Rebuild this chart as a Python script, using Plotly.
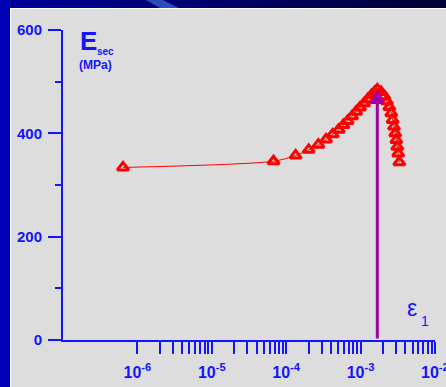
import math
import plotly.graph_objects as go

# ---- data ----
strain = [6.41e-7, 6.76e-5, 1.34e-4, 2.01e-4, 2.71e-4, 3.44e-4, 4.22e-4, 5.08e-4,
          5.87e-4, 6.71e-4, 7.69e-4, 8.71e-4, 9.84e-4, 1.114e-3, 1.245e-3, 1.396e-3,
          1.545e-3, 1.68e-3,
          1.884e-3, 2.09e-3, 2.27e-3, 2.44e-3, 2.59e-3, 2.70e-3, 2.82e-3, 2.93e-3,
          3.03e-3, 3.12e-3, 3.21e-3, 3.32e-3]
e_sec = [334, 346, 357, 368, 378, 388, 398, 407,
         416, 424, 433, 442, 450, 458, 466, 474,
         480, 485,
         480, 472, 462, 451, 439, 426, 413, 400,
         387, 374, 361, 344]
peak_strain = 1.68e-3
peak_e = 486
y_ticks = [0, 200, 400, 600]
y_minor = [100, 300, 500]
x_decades = [-6, -5, -4, -3, -2]

BLUE = "#1414ff"
FONT = "Liberation Sans, Arial, sans-serif"

xt_vals = [10.0 ** d for d in x_decades]
xt_text = [f"10<sup>{d}</sup>" for d in x_decades]
xm_vals = [m * 10.0 ** d for d in x_decades[:-1] for m in range(2, 10)]

fig = go.Figure()
fig.add_trace(go.Scatter(
    x=strain, y=e_sec, mode="lines+markers",
    line=dict(color="#ff0000", width=1, shape="spline", smoothing=0.8),
    marker=dict(symbol="triangle-up-open", size=10, color="#ff0000",
                line=dict(width=3, color="#ff0000")),
    showlegend=False, cliponaxis=False,
))

# purple arrow at peak strain
fig.add_annotation(x=math.log10(peak_strain), y=peak_e, ax=math.log10(peak_strain), ay=0,
                   xref="x", yref="y", axref="x", ayref="y", text="", showarrow=True,
                   arrowhead=2, arrowsize=1, arrowwidth=3, arrowcolor="#a000a8")

L, R, T, B = 63, 10.5, 30, 47
W, H = 446, 387
pw, ph = W - L - R, H - T - B


def px(xp):
    return (xp - L) / pw


def py(yp):
    return (H - B - yp) / ph


# background frame (blue border strips)
shapes = []
shapes.append(dict(type="rect", xref="paper", yref="paper", x0=px(-5), x1=px(10), y0=py(400), y1=py(-5),
                   fillcolor="#0000b4", line=dict(width=0), layer="below"))
nseg = 24
for i in range(nseg):
    f = i / (nseg - 1)
    b = int(150 * (1 - f) + 55 * f)
    x0 = 10 + (W - 10) * i / nseg
    x1 = 10 + (W - 10) * (i + 1) / nseg + 1
    shapes.append(dict(type="rect", xref="paper", yref="paper", x0=px(x0), x1=px(x1), y0=py(8), y1=py(-5),
                       fillcolor=f"rgb(0,0,{b})", line=dict(width=0), layer="below"))
shapes.append(dict(type="path", xref="paper", yref="paper",
                   path=f"M {px(146)},{py(0)} L {px(163)},{py(0)} L {px(179)},{py(8)} L {px(160)},{py(8)} Z",
                   fillcolor="#2a4cc0", line=dict(width=0), layer="below"))
shapes.append(dict(type="line", xref="paper", yref="paper", x0=px(10.5), x1=px(10.5), y0=py(8), y1=py(400),
                   line=dict(color="white", width=1), layer="below"))
shapes.append(dict(type="line", xref="paper", yref="paper", x0=px(10), x1=px(450), y0=py(8.5), y1=py(8.5),
                   line=dict(color="white", width=1), layer="below"))

fig.update_layout(
    width=W, height=H,
    margin=dict(l=L, r=R, t=T, b=B, pad=0, autoexpand=False),
    paper_bgcolor="#dddddd", plot_bgcolor="rgba(0,0,0,0)",
    shapes=shapes,
    font=dict(family=FONT, color=BLUE),
)

fig.update_xaxes(
    type="log", range=[-7, -1.999], showgrid=False, zeroline=False, automargin=False,
    showline=True, linecolor=BLUE, linewidth=2,
    tickmode="array", tickvals=xt_vals, ticktext=xt_text,
    ticks="outside", ticklen=12, tickwidth=2, tickcolor=BLUE,
    ticklabelstandoff=5, ticklabeloverflow="allow",
    tickfont=dict(size=16, family=FONT, color=BLUE, weight="bold"),
    minor=dict(tickmode="array", tickvals=xm_vals, ticks="outside", ticklen=12,
               tickwidth=2, tickcolor=BLUE),
)
fig.update_yaxes(
    range=[0, 600], showgrid=False, zeroline=False, automargin=False,
    showline=True, linecolor=BLUE, linewidth=2,
    tickmode="array", tickvals=y_ticks,
    ticks="outside", ticklen=13, tickwidth=2, tickcolor=BLUE,
    ticklabelstandoff=3,
    tickfont=dict(size=15, family=FONT, color=BLUE, weight="bold"),
    minor=dict(tickmode="array", tickvals=y_minor, ticks="outside", ticklen=6,
               tickwidth=2, tickcolor=BLUE),
)

ann = dict(xref="paper", yref="paper", showarrow=False, xanchor="left", yanchor="middle")
fig.add_annotation(x=px(78), y=py(41), text="<b>E</b>", font=dict(size=26, color=BLUE, family=FONT), **ann)
fig.add_annotation(x=px(95), y=py(51), text="<b>sec</b>", font=dict(size=10, color=BLUE, family=FONT), **ann)
fig.add_annotation(x=px(77), y=py(65), text="<b>(MPa)</b>", font=dict(size=12, color=BLUE, family=FONT), **ann)
fig.add_annotation(x=px(405), y=py(308), text="ε", font=dict(size=23, color=BLUE, family=FONT), **ann)
fig.add_annotation(x=px(419), y=py(321), text="1", font=dict(size=14, color=BLUE, family=FONT), **ann)

fig.write_html("out.html")
